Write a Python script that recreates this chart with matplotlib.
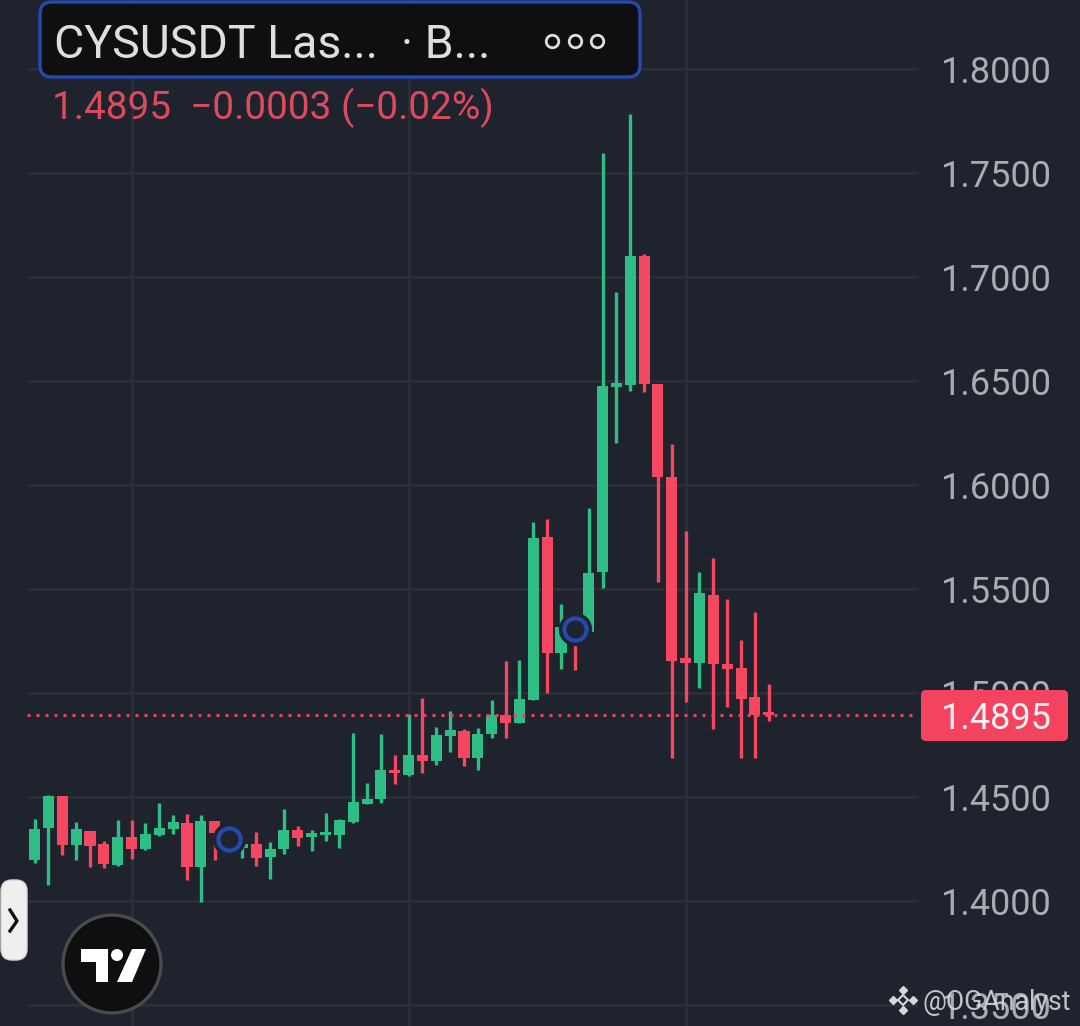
import matplotlib
matplotlib.use("Agg")
from matplotlib import pyplot as plt
from matplotlib.patches import FancyBboxPatch, Circle, Polygon

plt.rcParams['font.family'] = ['Roboto', 'DejaVu Sans']

# candles, oldest first
opens = [1.4197, 1.4351, 1.4505, 1.4269, 1.4337, 1.4274, 1.4173, 1.4308, 1.4250, 1.4317,
         1.4346, 1.4375, 1.4163, 1.4385, 1.4320, 1.4255, 1.4274, 1.4212, 1.4250, 1.4341,
         1.4308, 1.4317, 1.4317, 1.4380, 1.4466, 1.4490, 1.4630, 1.4606, 1.4702, 1.4673,
         1.4793, 1.4817, 1.4688, 1.4803, 1.4894, 1.4856, 1.4966, 1.5750, 1.5192, 1.5320,
         1.5293, 1.5582, 1.6471, 1.6481, 1.7101, 1.6486, 1.6038, 1.5168, 1.5144, 1.5471,
         1.5139, 1.5120, 1.4981, 1.4898]
highs = [1.4394, 1.4510, 1.4505, 1.4380, 1.4337, 1.4288, 1.4389, 1.4389, 1.4375, 1.4471,
         1.4413, 1.4418, 1.4413, 1.4385, 1.4340, 1.4274, 1.4332, 1.4284, 1.4442, 1.4361,
         1.4341, 1.4423, 1.4394, 1.4808, 1.4567, 1.4803, 1.4702, 1.4899, 1.4976, 1.4837,
         1.4913, 1.4827, 1.4832, 1.4966, 1.5154, 1.5159, 1.5822, 1.5837, 1.5428, 1.5340,
         1.5889, 1.7596, 1.6928, 1.7784, 1.7111, 1.6486, 1.6197, 1.5779, 1.5582, 1.5649,
         1.5452, 1.5255, 1.5389, 1.5043]
lows = [1.4183, 1.4077, 1.4221, 1.4197, 1.4163, 1.4159, 1.4168, 1.4202, 1.4245, 1.4312,
        1.4322, 1.4101, 1.3995, 1.4197, 1.4250, 1.4207, 1.4168, 1.4106, 1.4226, 1.4264,
        1.4240, 1.4288, 1.4255, 1.4375, 1.4466, 1.4471, 1.4563, 1.4601, 1.4615, 1.4654,
        1.4716, 1.4649, 1.4630, 1.4784, 1.4784, 1.4856, 1.4966, 1.5000, 1.5115, 1.5111,
        1.5293, 1.5505, 1.6202, 1.6452, 1.6447, 1.5534, 1.4688, 1.4957, 1.5024, 1.4827,
        1.4933, 1.4688, 1.4688, 1.4865]
closes = [1.4346, 1.4505, 1.4269, 1.4346, 1.4264, 1.4178, 1.4308, 1.4250, 1.4322, 1.4351,
          1.4380, 1.4163, 1.4385, 1.4327, 1.4265, 1.4274, 1.4207, 1.4250, 1.4341, 1.4303,
          1.4327, 1.4332, 1.4389, 1.4476, 1.4490, 1.4630, 1.4615, 1.4702, 1.4673, 1.4798,
          1.4822, 1.4688, 1.4803, 1.4894, 1.4856, 1.4971, 1.5745, 1.5192, 1.5317, 1.5260,
          1.5577, 1.6476, 1.6490, 1.7101, 1.6486, 1.6038, 1.5154, 1.5144, 1.5481, 1.5139,
          1.5115, 1.4971, 1.4894, 1.4895]

price_ticks = [1.35, 1.40, 1.45, 1.50, 1.55, 1.60, 1.65, 1.70, 1.75, 1.80]
time_grid = [7, 27, 47]
circle_marks = [(14, 1.4298), (39, 1.5310)]
last_price = 1.4895

BG = '#1e232d'
GRID = '#2a2f38'
GREEN = '#2ebd85'
RED = '#f5475f'
BLUE = '#2549ad'
DARK = '#0e0f11'

fig = plt.figure(figsize=(10.8, 10.26), dpi=100, facecolor=BG)
ax = fig.add_axes([0, 0, 1, 1], facecolor=BG)
ax.set_xlim(-2.50, 75.47)
ax.set_ylim(1.3399, 1.8332)

# grid stops short of the price scale
ytrans = ax.get_yaxis_transform()
ax.hlines(price_ticks, 27 / 1080, 917 / 1080, transform=ytrans, color=GRID, lw=2, zorder=1)
ax.vlines(time_grid, 0, 1, transform=ax.get_xaxis_transform(), color=GRID, lw=2, zorder=1)

xs = list(range(len(opens)))
colors = [GREEN if c >= o else RED for o, c in zip(opens, closes)]
ax.vlines(xs, lows, highs, colors=colors, lw=2.4, zorder=3)
bottoms = [min(o, c) for o, c in zip(opens, closes)]
sizes = [max(abs(c - o), 0.0012) for o, c in zip(opens, closes)]
ax.bar(xs, sizes, width=0.8, bottom=bottoms, color=colors, zorder=3)

ax.hlines(last_price, 27 / 1080, 913 / 1080, transform=ytrans, color='#e0485f', lw=2.16,
          linestyles=[(0, (1, 2))], zorder=4)

for cx, cy in circle_marks:
    ax.plot(cx, cy, 'o', ms=23, mfc=BG, mec=BG, zorder=5)
    ax.plot(cx, cy, 'o', ms=16, mfc=BG, mec=BLUE, mew=3, zorder=6)

ax.yaxis.tick_right()
ax.set_yticks(price_ticks)
ax.set_yticklabels(['%.4f' % p for p in price_ticks], fontsize=26, color='#a9acb2')
for lab in ax.get_yticklabels():
    lab.set_ha('right')
ax.tick_params(axis='y', length=0, pad=-20.2)
ax.set_xticks([])
for s in ax.spines.values():
    s.set_visible(False)

# everything that is screen furniture goes on a pixel overlay
ov = fig.add_axes([0, 0, 1, 1])
ov.set_xlim(0, 1080)
ov.set_ylim(1026, 0)
ov.axis('off')

ov.add_patch(FancyBboxPatch((47, 9), 586, 61, boxstyle='round,pad=7,rounding_size=12',
                            fc=DARK, ec=BLUE, lw=2.4))
ov.text(54, 40, 'CYSUSDT Las...  · B...', fontsize=33.4, color='#dedede', va='center_baseline')
ov.plot([552, 575, 597], [41, 41, 41], 'o', ms=9, mfc=DARK, mec='#dedede', mew=2)
ov.text(52, 103, '1.4895  −0.0003 (−0.02%)', fontsize=27.9, color='#dc4a5e', va='center_baseline')

ov.add_patch(FancyBboxPatch((925, 694), 139, 43, boxstyle='round,pad=4,rounding_size=5',
                            fc='#f4435f', ec='none'))
ov.text(1052, 715, '1.4895', fontsize=26, color='#f6f1f2', ha='right', va='center_baseline')

# side tab
ov.add_patch(FancyBboxPatch((6, 885), 16, 70, boxstyle='round,pad=5,rounding_size=11',
                            fc='#efefef', ec='#d8d8d8', lw=1))
ov.plot([10, 17, 10], [910, 921, 931], color='#111111', lw=2.4)

# TradingView badge
ov.add_patch(Circle((112, 964), 49, fc=DARK, ec='#4a4a4c', lw=2.4))
ov.add_patch(Polygon([(81, 949), (108, 949), (108, 982), (96, 982), (96, 962), (81, 962)], fc='white'))
ov.add_patch(Polygon([(132, 949), (146, 949), (132, 982), (117, 982)], fc='white'))
ov.add_patch(Circle((117, 955), 6, fc='white'))

# binance watermark
ov.plot([903, 903, 893, 913], [990, 1010, 1000, 1000], 'D', ms=4.5, color='#d5d6d8')
ov.plot(903, 1000, 'D', ms=5, mfc='none', mec='#d5d6d8', mew=1.5)
ov.text(923, 1000, '@OGAnalyst', fontsize=19.2, color='#d5d6d8', va='center_baseline', alpha=0.9)

fig.savefig('out.png', dpi=100, facecolor=BG)
